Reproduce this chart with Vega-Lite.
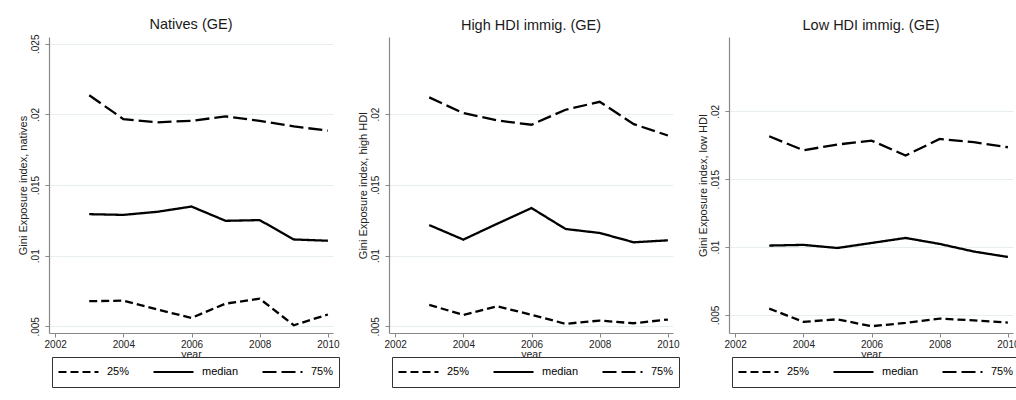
{
  "$schema": "https://vega.github.io/schema/vega-lite/v6.json",
  "background": "white",
  "padding": {"left": 17, "top": 17, "right": 0, "bottom": 0},
  "spacing": 56,
  "bounds": "flush",
  "datasets": {
    "natives": [
      {"year": 2003, "stat": "25%", "value": 0.00678}, {"year": 2004, "stat": "25%", "value": 0.00682}, {"year": 2005, "stat": "25%", "value": 0.00619}, {"year": 2006, "stat": "25%", "value": 0.0056}, {"year": 2007, "stat": "25%", "value": 0.00661}, {"year": 2008, "stat": "25%", "value": 0.00696}, {"year": 2009, "stat": "25%", "value": 0.00508}, {"year": 2010, "stat": "25%", "value": 0.00584},
      {"year": 2003, "stat": "median", "value": 0.01294}, {"year": 2004, "stat": "median", "value": 0.01289}, {"year": 2005, "stat": "median", "value": 0.01311}, {"year": 2006, "stat": "median", "value": 0.01348}, {"year": 2007, "stat": "median", "value": 0.01247}, {"year": 2008, "stat": "median", "value": 0.01252}, {"year": 2009, "stat": "median", "value": 0.01115}, {"year": 2010, "stat": "median", "value": 0.01106},
      {"year": 2003, "stat": "75%", "value": 0.02136}, {"year": 2004, "stat": "75%", "value": 0.01967}, {"year": 2005, "stat": "75%", "value": 0.01944}, {"year": 2006, "stat": "75%", "value": 0.01955}, {"year": 2007, "stat": "75%", "value": 0.01986}, {"year": 2008, "stat": "75%", "value": 0.01955}, {"year": 2009, "stat": "75%", "value": 0.01915}, {"year": 2010, "stat": "75%", "value": 0.01885}
    ],
    "high": [
      {"year": 2003, "stat": "25%", "value": 0.00652}, {"year": 2004, "stat": "25%", "value": 0.00581}, {"year": 2005, "stat": "25%", "value": 0.00642}, {"year": 2006, "stat": "25%", "value": 0.00581}, {"year": 2007, "stat": "25%", "value": 0.00518}, {"year": 2008, "stat": "25%", "value": 0.00541}, {"year": 2009, "stat": "25%", "value": 0.00522}, {"year": 2010, "stat": "25%", "value": 0.00548},
      {"year": 2003, "stat": "median", "value": 0.01216}, {"year": 2004, "stat": "median", "value": 0.01113}, {"year": 2005, "stat": "median", "value": 0.01226}, {"year": 2006, "stat": "median", "value": 0.01336}, {"year": 2007, "stat": "median", "value": 0.01188}, {"year": 2008, "stat": "median", "value": 0.0116}, {"year": 2009, "stat": "median", "value": 0.01094}, {"year": 2010, "stat": "median", "value": 0.01108},
      {"year": 2003, "stat": "75%", "value": 0.02118}, {"year": 2004, "stat": "75%", "value": 0.02007}, {"year": 2005, "stat": "75%", "value": 0.01955}, {"year": 2006, "stat": "75%", "value": 0.01925}, {"year": 2007, "stat": "75%", "value": 0.02031}, {"year": 2008, "stat": "75%", "value": 0.02087}, {"year": 2009, "stat": "75%", "value": 0.01929}, {"year": 2010, "stat": "75%", "value": 0.01849}
    ],
    "low": [
      {"year": 2003, "stat": "25%", "value": 0.00547}, {"year": 2004, "stat": "25%", "value": 0.00449}, {"year": 2005, "stat": "25%", "value": 0.00468}, {"year": 2006, "stat": "25%", "value": 0.00417}, {"year": 2007, "stat": "25%", "value": 0.00441}, {"year": 2008, "stat": "25%", "value": 0.00473}, {"year": 2009, "stat": "25%", "value": 0.0046}, {"year": 2010, "stat": "25%", "value": 0.00444},
      {"year": 2003, "stat": "median", "value": 0.01011}, {"year": 2004, "stat": "median", "value": 0.01016}, {"year": 2005, "stat": "median", "value": 0.00993}, {"year": 2006, "stat": "median", "value": 0.0103}, {"year": 2007, "stat": "median", "value": 0.01067}, {"year": 2008, "stat": "median", "value": 0.01023}, {"year": 2009, "stat": "median", "value": 0.00967}, {"year": 2010, "stat": "median", "value": 0.00927},
      {"year": 2003, "stat": "75%", "value": 0.01816}, {"year": 2004, "stat": "75%", "value": 0.01713}, {"year": 2005, "stat": "75%", "value": 0.01755}, {"year": 2006, "stat": "75%", "value": 0.01784}, {"year": 2007, "stat": "75%", "value": 0.01674}, {"year": 2008, "stat": "75%", "value": 0.01796}, {"year": 2009, "stat": "75%", "value": 0.01772}, {"year": 2010, "stat": "75%", "value": 0.01735}
    ]
  },
  "hconcat": [
    {
      "width": 284, "height": 296,
      "title": {"text": "Natives (GE)", "offset": 1.3},
      "data": {"name": "natives"},
      "mark": {"type": "line", "color": "black", "strokeWidth": 2.3},
      "encoding": {
        "x": {"field": "year", "type": "quantitative", "scale": {"domain": [2001.82, 2010.15], "nice": false, "zero": false}, "axis": {"values": [2002, 2004, 2006, 2008, 2010], "format": "d", "title": "year"}},
        "y": {"field": "value", "type": "quantitative", "scale": {"domain": [0.00453, 0.02548], "nice": false, "zero": false}, "axis": {"values": [0.005, 0.01, 0.015, 0.02, 0.025], "labelExpr": "substring(format(datum.value, '.3~f'), 1)", "title": "Gini Exposure index, natives"}},
        "strokeDash": {"field": "stat", "type": "nominal", "scale": {"domain": ["25%", "median", "75%"], "range": [[8, 4], [1, 0], [14, 5]]}, "legend": {"title": null}}
      }
    },
    {
      "width": 284, "height": 296,
      "title": {"text": "High HDI immig. (GE)", "offset": 4},
      "data": {"name": "high"},
      "mark": {"type": "line", "color": "black", "strokeWidth": 2.3},
      "encoding": {
        "x": {"field": "year", "type": "quantitative", "scale": {"domain": [2001.82, 2010.15], "nice": false, "zero": false}, "axis": {"values": [2002, 2004, 2006, 2008, 2010], "format": "d", "title": "year"}},
        "y": {"field": "value", "type": "quantitative", "scale": {"domain": [0.00453, 0.02545], "nice": false, "zero": false}, "axis": {"values": [0.005, 0.01, 0.015, 0.02], "labelExpr": "substring(format(datum.value, '.3~f'), 1)", "title": "Gini Exposure index, high HDI"}},
        "strokeDash": {"field": "stat", "type": "nominal", "scale": {"domain": ["25%", "median", "75%"], "range": [[8, 4], [1, 0], [14, 5]]}, "legend": {"title": null}}
      }
    },
    {
      "width": 284, "height": 296,
      "title": {"text": "Low HDI immig. (GE)", "offset": 4},
      "data": {"name": "low"},
      "mark": {"type": "line", "color": "black", "strokeWidth": 2.3},
      "encoding": {
        "x": {"field": "year", "type": "quantitative", "scale": {"domain": [2001.82, 2010.15], "nice": false, "zero": false}, "axis": {"values": [2002, 2004, 2006, 2008, 2010], "format": "d", "title": "year"}},
        "y": {"field": "value", "type": "quantitative", "scale": {"domain": [0.00367, 0.02547], "nice": false, "zero": false}, "axis": {"values": [0.005, 0.01, 0.015, 0.02], "labelExpr": "substring(format(datum.value, '.3~f'), 1)", "title": "Gini Exposure index, low HDI"}},
        "strokeDash": {"field": "stat", "type": "nominal", "scale": {"domain": ["25%", "median", "75%"], "range": [[8, 4], [1, 0], [14, 5]]}, "legend": {"title": null}}
      }
    }
  ],
  "resolve": {"scale": {"strokeDash": "independent", "y": "independent"}, "legend": {"strokeDash": "independent"}},
  "config": {
    "font": "Liberation Sans",
    "view": {"stroke": null},
    "title": {"font": "Liberation Sans", "fontSize": 14.5, "fontWeight": "normal", "color": "#1a1a1a", "anchor": "middle"},
    "axis": {"domainColor": "#888888", "domainWidth": 1.2, "tickColor": "#888888", "tickSize": 4, "labelColor": "#222222", "titleColor": "#222222", "labelFont": "Liberation Sans", "titleFont": "Liberation Sans", "labelFontSize": 10, "titleFontSize": 11, "titleFontWeight": "normal", "gridColor": "#e6eef0", "gridWidth": 1},
    "axisX": {"grid": false, "labelPadding": 2, "titlePadding": 0, "titleFontSize": 10.5},
    "axisY": {"grid": true, "labelAngle": -90, "labelPadding": 5, "titlePadding": 2},
    "legend": {"orient": "none", "legendX": 3, "legendY": 320, "direction": "horizontal", "symbolType": "stroke", "symbolSize": 1600, "symbolStrokeWidth": 2.2, "symbolStrokeColor": "black", "labelFont": "Liberation Sans", "labelFontSize": 11, "labelColor": "#000000", "labelOffset": 7, "columnPadding": 22, "padding": 5, "strokeColor": "#333333", "fillColor": "white", "clipHeight": 20}
  }
}
